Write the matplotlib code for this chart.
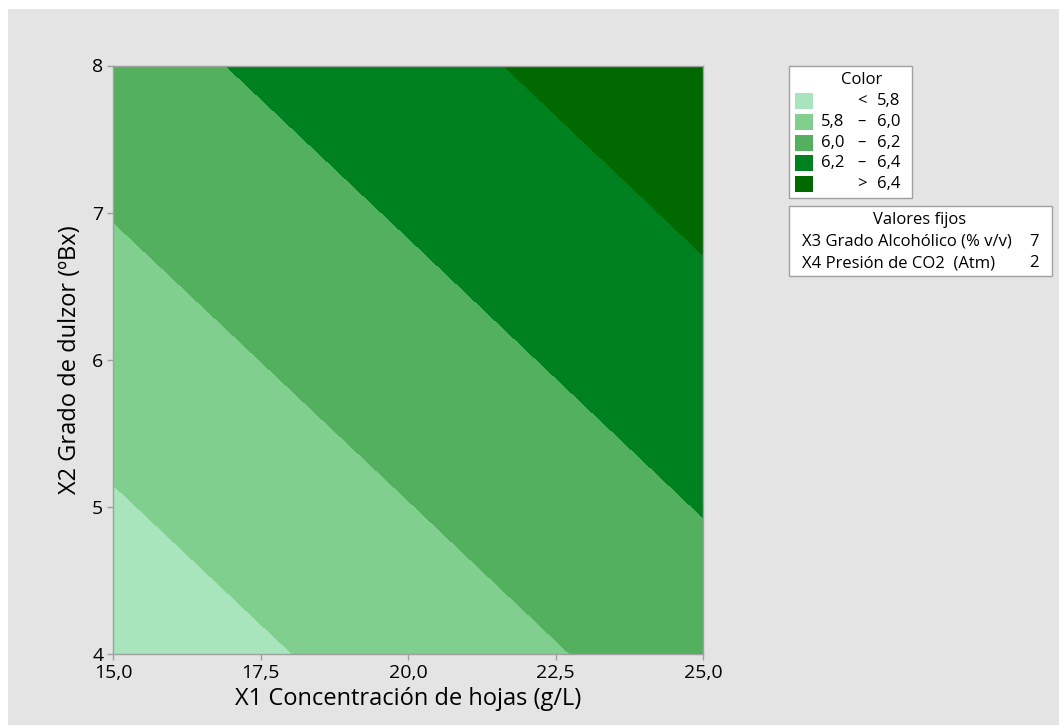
import matplotlib
matplotlib.use("Agg")
import matplotlib.pyplot as plt
from matplotlib.patches import Rectangle
from matplotlib.ticker import FuncFormatter
import numpy as np

# grid of the fitted response (X3 = 7, X4 = 2)
x1_vals = [15.0, 20.0, 25.0]
x2_vals = [4.0, 6.0, 8.0]
color_resp = [
    [5.671, 5.883, 6.096],
    [5.895, 6.107, 6.320],
    [6.119, 6.331, 6.544],
]

levels = [5.0, 5.8, 6.0, 6.2, 6.4, 7.0]
fill_colors = ["#a8e5bd", "#80cf8f", "#53b05e", "#008120", "#006900"]
bin_low = ["", "5,8", "6,0", "6,2", ""]
bin_sym = ["<", "–", "–", "–", ">"]
bin_high = ["5,8", "6,0", "6,2", "6,4", "6,4"]

fixed_names = ["X3 Grado Alcohólico (% v/v)", "X4 Presión de CO2  (Atm)"]
fixed_vals = ["7", "2"]

W, H = 1059, 725
plt.rcParams["font.family"] = ["Open Sans", "DejaVu Sans"]

fig = plt.figure(figsize=(W / 100, H / 100), dpi=100, facecolor="white")

def fx(px):
    return px / W

def fy(py):
    return 1 - py / H

# gray panel behind everything
fig.patches.append(Rectangle((fx(8), 0), 1, fy(9), transform=fig.transFigure,
                             facecolor="#e4e4e4", edgecolor="none", zorder=-10))

ax = fig.add_axes([fx(113), fy(654), fx(703) - fx(113), fy(65.5) - fy(654)])
X1, X2 = np.meshgrid(x1_vals, x2_vals)
ax.contourf(X1, X2, np.array(color_resp), levels=levels, colors=fill_colors,
            antialiased=False)

ax.set_xlim(15, 25)
ax.set_ylim(4, 8)
ax.set_xticks([15, 17.5, 20, 22.5, 25])
ax.set_yticks([4, 5, 6, 7, 8])
ax.xaxis.set_major_formatter(FuncFormatter(lambda v, p: f"{v:.1f}".replace(".", ",")))
ax.yaxis.set_major_formatter(FuncFormatter(lambda v, p: f"{v:.0f}"))
ax.tick_params(direction="out", length=4, width=1, color="#a0a0a0",
               labelsize=14, pad=3)
for s in ax.spines.values():
    s.set_color("#a0a0a0")
    s.set_linewidth(1)

ax.set_xlabel("X1 Concentración de hojas (g/L)", fontsize=17, labelpad=4)
ax.set_ylabel("X2 Grado de dulzor (ºBx)", fontsize=17, labelpad=7)

fs = 12
# legend box for colors
fig.patches.append(Rectangle((fx(789), fy(198)), fx(912) - fx(789), fy(66) - fy(198),
                             transform=fig.transFigure, facecolor="white",
                             edgecolor="#a0a0a0", linewidth=1))
fig.text(fx(862), fy(80), "Color", ha="center", va="center", fontsize=fs)
row_y = [101, 122, 143, 163, 184]
for i, c in enumerate(fill_colors):
    y = row_y[i]
    fig.patches.append(Rectangle((fx(795), fy(y + 8)), fx(18), fy(0) - fy(16),
                                 transform=fig.transFigure, facecolor=c,
                                 edgecolor="none"))
    if bin_low[i]:
        fig.text(fx(821), fy(y), bin_low[i], ha="left", va="center", fontsize=fs)
    fig.text(fx(862), fy(y), bin_sym[i], ha="center", va="center", fontsize=fs)
    fig.text(fx(900), fy(y), bin_high[i], ha="right", va="center", fontsize=fs)

# fixed values box
fig.patches.append(Rectangle((fx(789), fy(276)), fx(1052) - fx(789), fy(206) - fy(276),
                             transform=fig.transFigure, facecolor="white",
                             edgecolor="#a0a0a0", linewidth=1))
fig.text(fx(920), fy(220), "Valores fijos", ha="center", va="center", fontsize=fs)
for i, (n, v) in enumerate(zip(fixed_names, fixed_vals)):
    y = 242 + i * 21
    fig.text(fx(802), fy(y), n, ha="left", va="center", fontsize=fs)
    fig.text(fx(1039), fy(y), v, ha="right", va="center", fontsize=fs)

fig.savefig("out.png", dpi=100, facecolor=fig.get_facecolor())
